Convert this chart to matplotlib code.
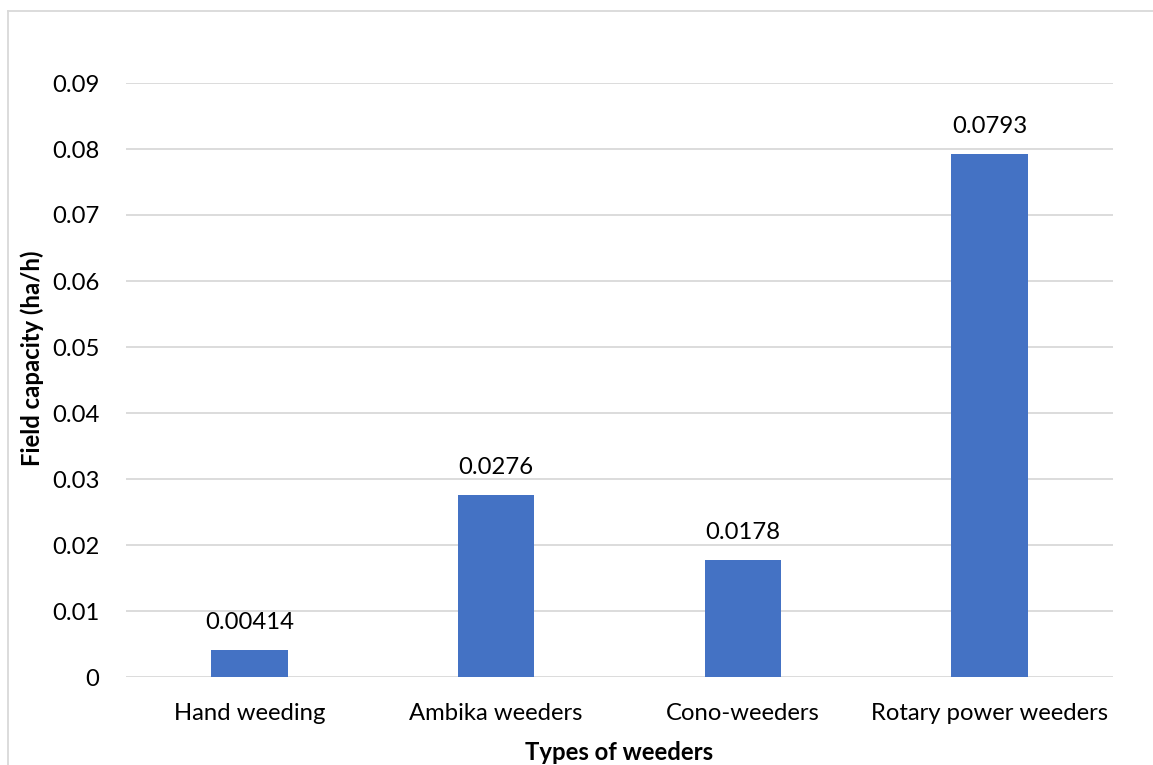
import matplotlib
matplotlib.use("Agg")
import matplotlib.pyplot as plt
from matplotlib.lines import Line2D

categories = ["Hand weeding", "Ambika weeders", "Cono-weeders", "Rotary power weeders"]
capacity = [0.00414, 0.0276, 0.0178, 0.0793]
value_labels = ["0.00414", "0.0276", "0.0178", "0.0793"]
yticks = [0, 0.01, 0.02, 0.03, 0.04, 0.05, 0.06, 0.07, 0.08, 0.09]
ytick_labels = ["0", "0.01", "0.02", "0.03", "0.04", "0.05", "0.06", "0.07", "0.08", "0.09"]

plt.rcParams["font.family"] = ["Lato", "DejaVu Sans"]

W, H = 1153, 765
FS = 17.2
fig = plt.figure(figsize=(W / 100, H / 100), dpi=100)
ax = fig.add_axes([126 / W, 1 - 677 / H, (1113 - 126) / W, (677 - 83) / H])

x = list(range(len(categories)))
bars = ax.bar(x, capacity, width=0.31, color="#4472C4", zorder=3)

for xi, v, lab in zip(x, capacity, value_labels):
    ax.annotate(lab, (xi, v), xytext=(0, 12), textcoords="offset points",
                ha="center", va="bottom", fontsize=FS, color="#000000")

ax.set_xlim(-0.5, len(categories) - 0.5)
ax.set_ylim(0, 0.09)
ax.set_yticks(yticks)
ax.set_yticklabels(ytick_labels, fontsize=FS)
ax.set_xticks(x)
ax.set_xticklabels(categories, fontsize=FS)
ax.tick_params(axis="y", length=0, pad=19)
ax.tick_params(axis="x", length=0, pad=18.5)

ax.grid(axis="y", color="#D9D9D9", linewidth=1.3, zorder=0)
for s in ax.spines.values():
    s.set_visible(False)

fig.text(32 / W, 1 - 358 / H, "Field capacity (ha/h)", rotation=90, ha="center",
         va="center", fontsize=FS, fontweight="bold")
fig.text(619 / W, 1 - 752 / H, "Types of weeders", ha="center", va="center",
         fontsize=FS, fontweight="bold")

# light chart frame along the left and top edges
fig.add_artist(Line2D([8 / W, 8 / W], [0, 1 - 11 / H], transform=fig.transFigure,
                      color="#D9D9D9", linewidth=1.3))
fig.add_artist(Line2D([8 / W, 1], [1 - 11 / H, 1 - 11 / H], transform=fig.transFigure,
                      color="#D9D9D9", linewidth=1.3))

fig.savefig("out.png", dpi=100, facecolor="white")
